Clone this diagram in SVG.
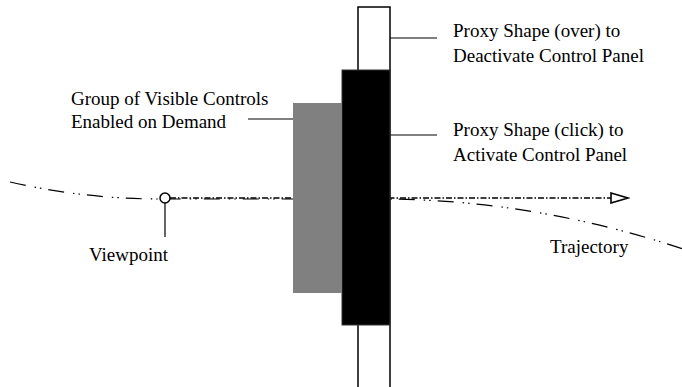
<svg xmlns="http://www.w3.org/2000/svg" width="682" height="387" viewBox="0 0 682 387">
  <style>
    .lbl { font-family: "Liberation Serif", "Times New Roman", Times, serif; font-size: 19px; fill: #000; }
    .lead { stroke: #000; stroke-width: 1.2; fill: none; }
    .traj { stroke: #000; stroke-width: 1.2; fill: none; stroke-dasharray: 16 9 1.5 4 1.5 7; }
    .ray { stroke: #000; stroke-width: 1.5; fill: none; stroke-dasharray: 6 2 1.5 2; }
  </style>
  <defs>
    <marker id="openArrow" viewBox="0 0 20 12" refX="18" refY="6" markerWidth="20" markerHeight="12" markerUnits="userSpaceOnUse" orient="auto">
      <path d="M1,1 L18,6 L1,11 Z" fill="#fff" stroke="#000" stroke-width="1.6"/>
    </marker>
  </defs>
  <rect width="682" height="387" fill="#fff"/>

  <!-- connectors: trajectory curve, view ray and leader lines -->
  <g id="connectors">
    <path class="traj" d="M10,182 Q85,199 160,199 L380,199 Q531,199 682,248.6"/>
    <path class="ray" d="M170,198 L628,198" marker-end="url(#openArrow)"/>
    <line class="lead" x1="165" y1="203" x2="165" y2="237"/>
    <line class="lead" x1="248" y1="119" x2="293" y2="119"/>
    <line class="lead" x1="390" y1="38" x2="437" y2="38"/>
    <line class="lead" x1="390" y1="135" x2="437" y2="135"/>
  </g>

  <!-- proxy shape (over): tall outlined column -->
  <g id="proxy-over">
    <rect x="358" y="7" width="32" height="390" fill="#fff" stroke="#000" stroke-width="1.5"/>
  </g>

  <!-- proxy shape (click): black panel -->
  <g id="proxy-click">
    <rect x="342" y="70" width="48" height="255" fill="#000" stroke="#333" stroke-width="1"/>
  </g>

  <!-- visible controls group -->
  <g id="controls-group">
    <rect x="293" y="103" width="49" height="190" fill="#808080"/>
  </g>

  <!-- viewpoint -->
  <g id="viewpoint">
    <circle cx="165" cy="198" r="5" fill="#fff" stroke="#000" stroke-width="1.5"/>
    <text class="lbl" x="89" y="261">Viewpoint</text>
  </g>

  <g id="label-controls">
    <text class="lbl" x="71" y="105">Group of Visible Controls</text>
    <text class="lbl" x="71" y="128">Enabled on Demand</text>
  </g>

  <g id="label-over">
    <text class="lbl" x="453" y="37">Proxy Shape (over) to</text>
    <text class="lbl" x="453" y="62">Deactivate Control Panel</text>
  </g>

  <g id="label-click">
    <text class="lbl" x="453" y="136">Proxy Shape (click) to</text>
    <text class="lbl" x="453" y="161">Activate Control Panel</text>
  </g>

  <g id="label-trajectory">
    <text class="lbl" x="550" y="253">Trajectory</text>
  </g>
</svg>
